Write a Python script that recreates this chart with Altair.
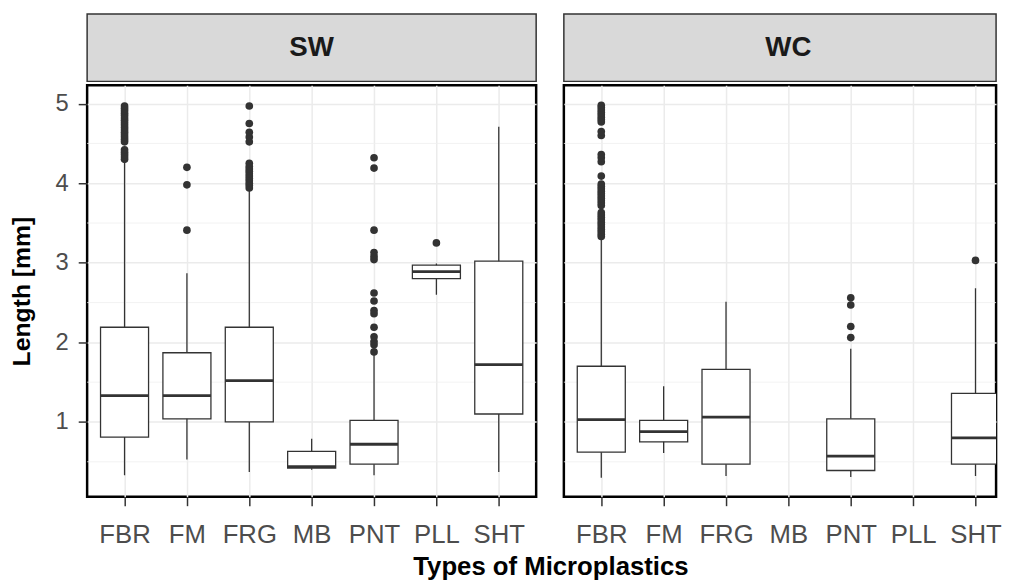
import json
import altair as alt
import pandas as pd

FONT = "Liberation Sans"

categories = ["FBR", "FM", "FRG", "MB", "PNT", "PLL", "SHT"]
y_breaks = [1, 2, 3, 4, 5]
y_minor_breaks = [0.5, 1.5, 2.5, 3.5, 4.5]

# ---- SW box statistics ----
sw_cats = ["FBR", "FM", "FRG", "MB", "PNT", "PLL", "SHT"]
sw_low = [0.33, 0.53, 0.37, 0.40, 0.33, 2.60, 0.37]
sw_q1 = [0.81, 1.04, 1.00, 0.42, 0.47, 2.80, 1.10]
sw_med = [1.33, 1.33, 1.52, 0.44, 0.72, 2.89, 1.72]
sw_q3 = [2.19, 1.87, 2.19, 0.63, 1.02, 2.97, 3.02]
sw_high = [4.28, 2.87, 3.91, 0.79, 1.86, 2.99, 4.71]

# ---- WC box statistics ----
wc_cats = ["FBR", "FM", "FRG", "PNT", "SHT"]
wc_low = [0.30, 0.61, 0.32, 0.31, 0.32]
wc_q1 = [0.62, 0.75, 0.47, 0.39, 0.47]
wc_med = [1.03, 0.88, 1.06, 0.57, 0.80]
wc_q3 = [1.70, 1.02, 1.66, 1.04, 1.36]
wc_high = [3.31, 1.45, 2.51, 1.92, 2.68]

# ---- outliers ----
sw_out_fbr = [4.30, 4.33, 4.36, 4.39, 4.42, 4.52, 4.55, 4.58, 4.61, 4.64, 4.67,
              4.70, 4.73, 4.76, 4.79, 4.82, 4.85, 4.88, 4.91, 4.94, 4.97]
sw_out_fm = [3.41, 3.98, 4.20]
sw_out_frg = [3.94, 3.97, 4.00, 4.03, 4.06, 4.09, 4.12, 4.15, 4.18, 4.21, 4.25,
              4.52, 4.58, 4.64, 4.75, 4.97]
sw_out_pnt = [1.88, 1.97, 2.01, 2.07, 2.19, 2.36, 2.40, 2.52, 2.62,
              3.04, 3.08, 3.13, 3.41, 4.19, 4.32]
sw_out_pll = [3.25]

wc_out_fbr = [3.33, 3.36, 3.39, 3.42, 3.45, 3.48, 3.51, 3.54, 3.57, 3.60, 3.63,
              3.72, 3.75, 3.78, 3.81, 3.84, 3.87, 3.90, 3.93, 3.96, 3.99,
              4.09, 4.27, 4.32, 4.36, 4.60, 4.65,
              4.77, 4.80, 4.83, 4.86, 4.89, 4.92, 4.95, 4.98]
wc_out_pnt = [2.06, 2.20, 2.47, 2.56]
wc_out_sht = [3.03]

sw_outliers = {"FBR": sw_out_fbr, "FM": sw_out_fm, "FRG": sw_out_frg,
               "PNT": sw_out_pnt, "PLL": sw_out_pll}
wc_outliers = {"FBR": wc_out_fbr, "PNT": wc_out_pnt, "SHT": wc_out_sht}

UNIT_PX = 63.06
PANEL_H = 416
STRIP_H = 68
INK = "#333333"

label_expr = json.dumps(categories) + "[datum.value - 1]"


def panel(site, cats, low, q1, med, q3, high, outliers, width, first):
    idx = [categories.index(c) + 1 for c in cats]
    box_df = pd.DataFrame(dict(cat=cats, idx=idx, low=low, q1=q1, med=med,
                               q3=q3, high=high))
    rows = [(categories.index(c) + 1, v) for c, vals in outliers.items() for v in vals]
    out_df = pd.DataFrame(rows, columns=["idx", "val"])
    minor_df = pd.DataFrame({"y": y_minor_breaks})

    xmax = 0.4 + width / UNIT_PX
    xscale = alt.Scale(domain=[0.4, xmax], nice=False, zero=False)
    yscale = alt.Scale(domain=[0.06, 5.23], nice=False, zero=False)
    xaxis = alt.Axis(values=list(range(1, 8)), labelExpr=label_expr, title=None,
                     grid=True)
    if first:
        yaxis = alt.Axis(values=y_breaks, title="Length [mm]", grid=True)
    else:
        yaxis = alt.Axis(values=y_breaks, title=None, labels=False, ticks=False,
                         grid=True)

    minor = alt.Chart(minor_df).mark_rule(color="#EEEEEE", strokeWidth=0.8).encode(
        y=alt.Y("y:Q", scale=yscale, axis=yaxis))

    whisk = alt.Chart(box_df).mark_rule(color=INK, strokeWidth=1.3, clip=True).encode(
        x=alt.X("idx:Q", scale=xscale, axis=xaxis),
        y=alt.Y("low:Q", scale=yscale, axis=yaxis), y2="high:Q")

    box = alt.Chart(box_df).transform_calculate(
        xlo="datum.idx - 0.385", xhi="datum.idx + 0.385"
    ).mark_rect(fill="white", stroke=INK, strokeWidth=1.3, clip=True).encode(
        x=alt.X("xlo:Q", scale=xscale, axis=xaxis), x2="xhi:Q",
        y=alt.Y("q1:Q", scale=yscale, axis=yaxis), y2="q3:Q")

    median = alt.Chart(box_df).transform_calculate(
        xlo="datum.idx - 0.385", xhi="datum.idx + 0.385"
    ).mark_rule(color=INK, strokeWidth=2.8, clip=True).encode(
        x=alt.X("xlo:Q", scale=xscale, axis=xaxis), x2="xhi:Q",
        y=alt.Y("med:Q", scale=yscale, axis=yaxis))

    pts = alt.Chart(out_df).mark_circle(color=INK, size=60, opacity=1, clip=True).encode(
        x=alt.X("idx:Q", scale=xscale, axis=xaxis),
        y=alt.Y("val:Q", scale=yscale, axis=yaxis))

    plot = alt.layer(minor, whisk, box, median, pts).properties(
        width=width, height=PANEL_H,
        view=alt.ViewBackground(fill="white", stroke="black", strokeWidth=2.5))

    strip = alt.Chart(pd.DataFrame({"t": [site]})).mark_text(
        font=FONT, fontSize=28, fontWeight="bold", color="#1A1A1A",
        align="center", baseline="middle").encode(
        text="t:N", x=alt.value(227), y=alt.value(STRIP_H / 2)).properties(
        width=width, height=STRIP_H,
        view=alt.ViewBackground(fill="#D9D9D9", stroke=INK, strokeWidth=1.5))

    return alt.vconcat(strip, plot, spacing=1)


sw = panel("SW", sw_cats, sw_low, sw_q1, sw_med, sw_q3, sw_high, sw_outliers, 454, True)
wc = panel("WC", wc_cats, wc_low, wc_q1, wc_med, wc_q3, wc_high, wc_outliers, 437, False)

chart = alt.hconcat(sw, wc, spacing=24).properties(
    title=alt.TitleParams("Types of Microplastics", orient="bottom", anchor="middle",
                          fontSize=26, fontWeight="bold", font=FONT, color="black",
                          dx=46, offset=6),
    padding={"left": 0, "top": 2, "right": 0, "bottom": 0},
).configure_axis(
    labelFont=FONT, labelFontSize=24, labelColor="#4D4D4D",
    titleFont=FONT, titleFontSize=25, titleFontWeight="bold", titleColor="black",
    titlePadding=21, labelPadding=10, tickSize=9, tickColor=INK, tickWidth=1.5,
    domain=False, gridColor="#EBEBEB", gridWidth=1.5,
).configure_axisX(labelPadding=16, labelFontSize=26)

chart.save("out.html", embed_options={"renderer": "svg", "actions": False})
